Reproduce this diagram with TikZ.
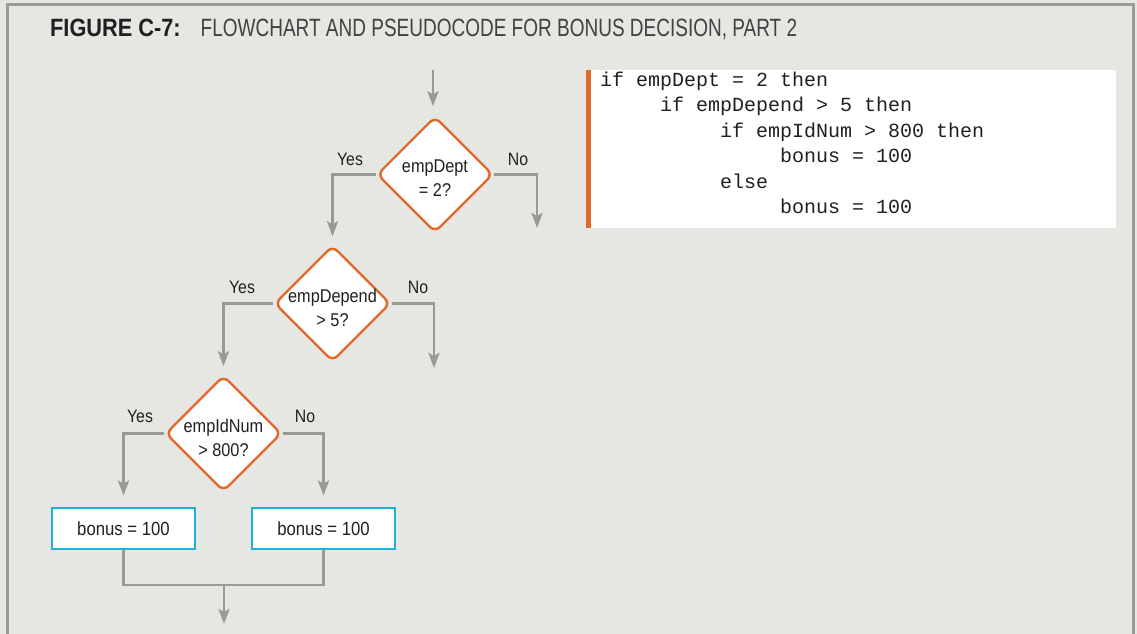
\documentclass[tikz,border=0pt]{standalone}
\usepackage{fontspec}
\setmainfont{Liberation Sans}
\setmonofont{Liberation Mono}
\newfontfamily\titleboldfont{Liberation Sans}[FakeStretch=0.87]
\newfontfamily\titlefont{Liberation Sans}[FakeStretch=0.76]
\newfontfamily\flowfont{Liberation Sans}[FakeStretch=0.88]
\usetikzlibrary{arrows.meta, shapes.geometric, positioning, backgrounds}

\definecolor{bgGray}{HTML}{E6E6E3}
\definecolor{frameGray}{HTML}{9B9C97}
\definecolor{lineGray}{HTML}{999A94}
\definecolor{decOrange}{HTML}{E0692B}
\definecolor{boxCyan}{HTML}{22B2D6}
\definecolor{textDark}{HTML}{231F20}

\tikzset{
  decision/.style={diamond, draw=decOrange, line width=2.4pt, fill=white,
    rounded corners=7pt, minimum width=116pt, minimum height=116pt, inner sep=0pt},
  dtext/.style={align=center, font=\flowfont\fontsize{18.5}{24}\selectfont, text=textDark, yshift=-4pt},
  process/.style={draw=boxCyan, line width=2.8pt, fill=white, minimum width=143pt,
    minimum height=41pt, inner sep=0pt, font=\flowfont\fontsize{19}{22}\selectfont, text=textDark},
  flow/.style={draw=lineGray, line width=2.8pt, -{Stealth[length=15pt, width=11pt, inset=3pt]}},
  branch/.style={font=\flowfont\fontsize{18}{22}\selectfont, text=textDark, inner sep=0pt},
  codeline/.style={anchor=base west, inner sep=0pt, font=\fontsize{20}{24}\ttfamily, text=textDark}
}

\begin{document}
\begin{tikzpicture}[x=1pt, y=-1pt]
        % --- Panel ---
        \begin{scope}[on background layer]
            \fill[bgGray] (0,0) rectangle (1137,634);
        \end{scope}
        \useasboundingbox (0,0) rectangle (1137,634);
        \draw[frameGray, line width=2.5pt] (7.5,634) -- (7.5,4.5) -- (1133.5,4.5) -- (1133.5,634);
        \node[anchor=base west, inner sep=0pt, text=textDark] (title) at (50,37)
            {{\titleboldfont\bfseries\fontsize{25}{30}\selectfont FIGURE C-7:}\hspace{20pt}%
             {\titlefont\fontsize{25}{30}\selectfont\color{textDark!85} FLOWCHART AND PSEUDOCODE FOR BONUS DECISION, PART 2}};

        % --- Pseudocode ---
        \fill[white] (586,70) rectangle (1116,228);
        \fill[decOrange] (586,70) rectangle (591,228);
        \foreach \n/\col/\txt in {0/0/{if empDept = 2 then}, 1/5/{if empDepend > 5 then},
                                   2/10/{if empIdNum > 800 then}, 3/15/{bonus = 100},
                                   4/10/{else}, 5/15/{bonus = 100}}
            \node[codeline] (code\n) at (600+12*\col, 86.5+25.4*\n) {\txt};

        % --- Decisions ---
        \node[decision, label={[dtext]center:empDept\\= 2?}] (dept) at (435,174.5) {};
        \node[decision, label={[dtext]center:empDepend\\> 5?}] (depend) at (332.5,303.5) {};
        \node[decision, label={[dtext]center:empIdNum\\> 800?}] (idnum) at (223.5,433.5) {};

        % --- Assignments ---
        \node[process] (bonusA) at (123.5,528.5) {bonus = 100};
        \node[process] (bonusB) at (323.5,528.5) {bonus = 100};

        % --- Free ends ---
        \coordinate (entry) at (433,70);
        \coordinate (deptNo) at (537,228);
        \coordinate (dependNo) at (434,368);
        \coordinate (merge) at (224,585);
        \coordinate (exit) at (224,624);

        % --- Connectors ---
        \begin{scope}[on background layer]
            \draw[flow, shorten >=9pt] (entry) -- (entry |- dept.north);
            \draw[flow, shorten >=8pt] (dept.west) -| (depend.north);
            \draw[flow] (dept.east) -| (deptNo);
            \draw[flow, shorten >=8pt] (depend.west) -| (idnum.north);
            \draw[flow] (depend.east) -| (dependNo);
            \draw[flow, shorten >=11pt] (idnum.west) -| (bonusA.north);
            \draw[flow, shorten >=11pt] (idnum.east) -| (bonusB.north);
            \draw[lineGray, line width=2.8pt] (bonusA.south) |- (merge) -| (bonusB.south);
            \draw[flow] (merge) -- (exit);
        \end{scope}

        % --- Branch labels ---
        \node[branch] (deptYes) at (350,159) {Yes};
        \node[branch] (deptNoLbl) at (518,159) {No};
        \node[branch] (dependYes) at (242,287) {Yes};
        \node[branch] (dependNoLbl) at (418,287) {No};
        \node[branch] (idnumYes) at (140,416) {Yes};
        \node[branch] (idnumNoLbl) at (305,416) {No};
    \end{tikzpicture}
\end{document}
